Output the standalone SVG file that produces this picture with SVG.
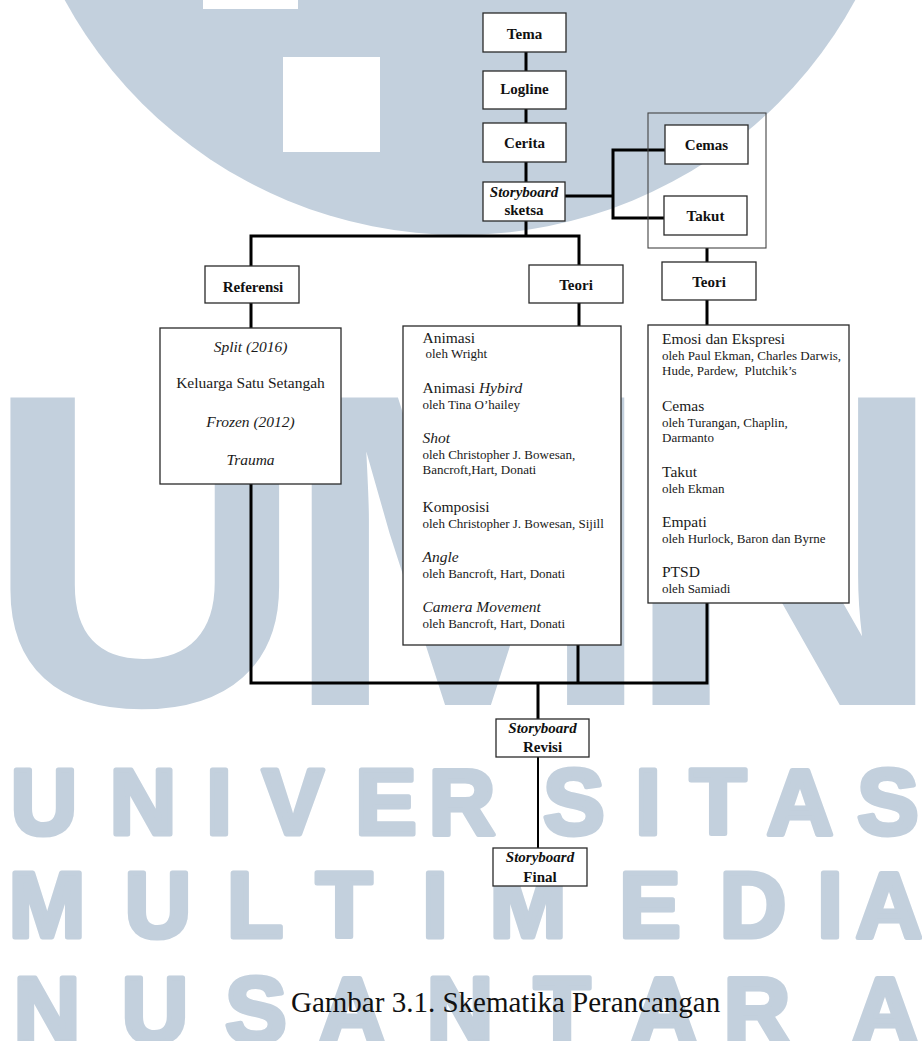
<svg xmlns="http://www.w3.org/2000/svg" width="922" height="1041" viewBox="0 0 922 1041">
<style>
.wm{fill:#c3d0dd}
.wmt{font-family:"Liberation Sans",Arial,sans-serif;font-weight:700;fill:#c3d0dd;text-anchor:middle}
.row{font-size:92px;stroke:#c3d0dd;stroke-width:5;stroke-linejoin:round}
.box{fill:#fff;stroke:#2a2a2a;stroke-width:1.3}
.grp{fill:none;stroke:#444;stroke-width:1.1}
.lbl{font-family:"Liberation Serif","Times New Roman",serif;font-weight:700;font-size:15px;fill:#111;text-anchor:middle}
.it{font-style:italic}
.t{font-family:"Liberation Serif","Times New Roman",serif;fill:#1a1a1a}
.c{text-anchor:middle}
.h{font-size:15.5px}
.s{font-size:13px}
.con{fill:none;stroke:#000;stroke-width:3}
.thin{fill:none;stroke:#000;stroke-width:2}
</style>
<rect x="0" y="0" width="922" height="1041" fill="#fff"/>
<g id="watermark">
<circle class="wm" cx="460" cy="-215" r="450"/>
<rect x="283" y="57" width="97" height="95" fill="#fff"/>
<rect x="203" y="-5" width="95" height="14" fill="#fff"/>
<text class="wmt" font-size="447" x="145 468 784" y="705">UMN</text>
<text class="wmt row" x="44 143 219 293 386 462 574 648 718 800 888" y="834">UNIVERSITAS</text>
<text class="wmt row" x="47 158 255 344 435 528 650 753 830 889" y="937">MULTIMEDIA</text>
<text class="wmt row" x="47 155 256 352 460 562 664 757 885" y="1042">NUSANTARA</text>
</g>
<g id="connectors">
<path class="con" d="M526,52 V71 M526,109 V123 M526,162 V182 M526,221 V236"/>
<path class="con" d="M251,266 V236 H579 V265"/>
<path class="con" d="M251,303 V328 M579,303 V326"/>
<path class="con" d="M565,196 H613 M665,150 H613 V218 H664"/>
<path class="con" d="M707,248 V262 M707,300 V325"/>
<path class="con" d="M251,484 V683 H707 V603 M578,645 V683 M538,683 V719"/>
<path class="thin" d="M538,757 V848"/>
</g>
<g id="tema"><rect class="box" x="483" y="13" width="83" height="39"/><text class="lbl" x="524.5" y="39">Tema</text></g>
<g id="logline"><rect class="box" x="483" y="71" width="83" height="38"/><text class="lbl" x="524.5" y="94">Logline</text></g>
<g id="cerita"><rect class="box" x="483" y="123" width="83" height="39"/><text class="lbl" x="524.5" y="148">Cerita</text></g>
<g id="storyboard-sketsa"><rect class="box" x="483" y="182" width="82" height="39"/><text class="lbl it" x="524" y="197">Storyboard</text><text class="lbl" x="524" y="215">sketsa</text></g>
<g id="emosi-group"><rect class="grp" x="648" y="113" width="118" height="135"/></g>
<g id="cemas"><rect class="box" x="665" y="125" width="83" height="39"/><text class="lbl" x="706.5" y="150">Cemas</text></g>
<g id="takut"><rect class="box" x="664" y="196" width="83" height="39"/><text class="lbl" x="705.5" y="221">Takut</text></g>
<g id="teori-kanan"><rect class="box" x="662" y="262" width="94" height="38"/><text class="lbl" x="709" y="287">Teori</text></g>
<g id="referensi"><rect class="box" x="205" y="266" width="94" height="37"/><text class="lbl" x="253" y="292">Referensi</text></g>
<g id="teori-tengah"><rect class="box" x="529" y="265" width="94" height="38"/><text class="lbl" x="576" y="290">Teori</text></g>
<g id="daftar-referensi">
<rect class="box" x="160" y="328" width="181" height="156"/>
<text class="t h c it" x="250.5" y="352">Split (2016)</text>
<text class="t h c" x="250.5" y="388">Keluarga Satu Setangah</text>
<text class="t h c it" x="250.5" y="427">Frozen (2012)</text>
<text class="t h c it" x="250.5" y="465">Trauma</text>
</g>
<g id="daftar-teori">
<rect class="box" x="403" y="326" width="218" height="319"/>
<text class="t h" x="422.5" y="343">Animasi</text>
<text class="t s" x="425.5" y="358">oleh Wright</text>
<text class="t h" x="422.5" y="393">Animasi <tspan class="it">Hybird</tspan></text>
<text class="t s" x="422.5" y="409">oleh Tina O’hailey</text>
<text class="t h it" x="422.5" y="443">Shot</text>
<text class="t s" x="422.5" y="459">oleh Christopher J. Bowesan,</text>
<text class="t s" x="422.5" y="474">Bancroft,Hart, Donati</text>
<text class="t h" x="422.5" y="512">Komposisi</text>
<text class="t s" x="422.5" y="528">oleh Christopher J. Bowesan, Sijill</text>
<text class="t h it" x="422.5" y="562">Angle</text>
<text class="t s" x="422.5" y="578">oleh Bancroft, Hart, Donati</text>
<text class="t h it" x="422.5" y="612">Camera Movement</text>
<text class="t s" x="422.5" y="628">oleh Bancroft, Hart, Donati</text>
</g>
<g id="daftar-teori-emosi">
<rect class="box" x="648" y="325" width="201" height="278"/>
<text class="t h" x="662" y="344">Emosi dan Ekspresi</text>
<text class="t s" x="662" y="360">oleh Paul Ekman, Charles Darwis,</text>
<text class="t s" x="662" y="375" style="white-space:pre">Hude, Pardew,  Plutchik’s</text>
<text class="t h" x="662" y="411">Cemas</text>
<text class="t s" x="662" y="427">oleh Turangan, Chaplin,</text>
<text class="t s" x="662" y="442">Darmanto</text>
<text class="t h" x="662" y="477">Takut</text>
<text class="t s" x="662" y="493">oleh Ekman</text>
<text class="t h" x="662" y="527">Empati</text>
<text class="t s" x="662" y="543">oleh Hurlock, Baron dan Byrne</text>
<text class="t h" x="662" y="577">PTSD</text>
<text class="t s" x="662" y="593">oleh Samiadi</text>
</g>
<g id="storyboard-revisi"><rect class="box" x="496" y="719" width="93" height="38"/><text class="lbl it" x="542.5" y="733">Storyboard</text><text class="lbl" x="542.5" y="752">Revisi</text></g>
<g id="storyboard-final"><rect class="box" x="493" y="848" width="94" height="38"/><text class="lbl it" x="540" y="862">Storyboard</text><text class="lbl" x="540" y="882">Final</text></g>
<text id="caption" x="291" y="1012" font-family="Liberation Serif, Times New Roman, serif" font-size="29" fill="#111">Gambar 3.1. Skematika Perancangan</text>
</svg>
